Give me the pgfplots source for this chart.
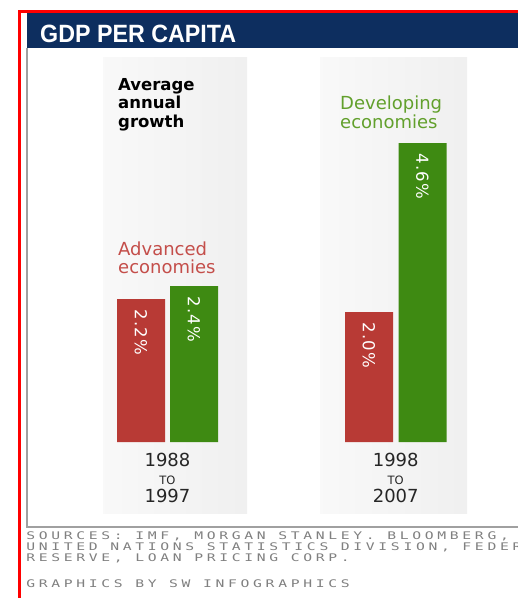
\documentclass[border=0pt]{standalone}
\usepackage{pgfplots}
\pgfplotsset{compat=1.18}
\usepackage{fontspec}
\setmainfont{DejaVu Sans}
\newfontfamily\lib{Liberation Sans}
\newfontfamily\dv{DejaVu Sans}
\newfontfamily\dvsp[LetterSpace=8]{DejaVu Sans}
\newfontfamily\src[LetterSpace=25]{DejaVu Sans Mono}
\definecolor{navy}{HTML}{0D2E5F}
\definecolor{barred}{HTML}{B83A35}
\definecolor{bargreen}{HTML}{3E8A12}
\definecolor{advred}{HTML}{C44E4A}
\definecolor{devgreen}{HTML}{62A02C}
\definecolor{srcgray}{HTML}{808080}
\definecolor{frame}{HTML}{A0A0A0}
\begin{document}
\begin{tikzpicture}
\useasboundingbox (0,0) rectangle (518pt,-598pt);
\clip (0,0) rectangle (518pt,-598pt);
\fill[white] (0,0) rectangle (518pt,-598pt);
\begin{scope}[x=1pt,y=-1pt]
\fill[red] (18,10) rectangle (21,598);
\fill[red] (18,10) rectangle (518,13);
\fill[navy] (27,13) rectangle (518,48);
\node[anchor=base west, inner sep=0pt, text=white, font=\lib\bfseries\fontsize{25}{25}\selectfont, xscale=0.93] at (40,42) {GDP PER CAPITA};
\draw[frame, line width=1.5pt] (27,48) -- (27,527) -- (518,527);
\shade[left color=gray!5, right color=gray!12] (103,57) rectangle (247,513);
\shade[left color=gray!5, right color=gray!12] (320,57) rectangle (467,513);
\node[anchor=base west, inner sep=0pt, align=left, font=\dv\bfseries\fontsize{16.5}{18.5}\selectfont] at (118,127) {Average\\annual\\growth};
\node[anchor=base west, inner sep=0pt, align=left, text=advred, font=\dv\fontsize{18}{18}\selectfont] at (118,273) {Advanced\\economies};
\node[anchor=base west, inner sep=0pt, align=left, text=devgreen, font=\dv\fontsize{18}{18.5}\selectfont] at (340,128) {Developing\\economies};
\begin{scope}[every node/.style={anchor=base west, inner sep=0pt, text=srcgray, xscale=1.4, font=\src\fontsize{10.5}{10.5}\selectfont}]
\node at (26,539) {SOURCES: IMF, MORGAN STANLEY. BLOOMBERG,};
\node at (26,550) {UNITED NATIONS STATISTICS DIVISION, FEDERAL};
\node at (26,561) {RESERVE, LOAN PRICING CORP.};
\node at (26,587) {GRAPHICS BY SW INFOGRAPHICS};
\end{scope}
\end{scope}
\begin{axis}[
  at={(100pt,-442pt)}, anchor=south west, scale only axis,
  width=370pt, height=390pt,
  xmin=100, xmax=470, ymin=0, ymax=6, clip=false,
  axis line style={draw=none}, ytick=\empty,
  xtick={167.5,395.75}, major tick length=0pt,
  xticklabels={{1988\\{\fontsize{11.5}{11}\selectfont TO}\\1997},{1998\\{\fontsize{11.5}{11}\selectfont TO}\\2007}},
  xticklabel style={align=center, anchor=north, inner sep=0pt, yshift=-11pt, text=black!85, font=\dv\fontsize{18}{18}\selectfont},
  ybar, bar width=48pt, bar shift=0pt,
  /pgf/number format/assume math mode=true,
  nodes near coords={\pgfmathprintnumber[fixed,fixed zerofill,precision=1,assume math mode=true]{\pgfplotspointmeta}\%},
  every node near coord/.append style={anchor=west, rotate=-90, xshift=10pt, text=white, font=\dvsp\fontsize{16.5}{16.5}\selectfont, inner sep=0pt},
]
\addplot[fill=barred, draw=none] coordinates {(141,2.2) (369,2.0)};
\addplot[fill=bargreen, draw=none] coordinates {(194,2.4) (422.5,4.6)};
\end{axis}
\end{tikzpicture}
\end{document}
